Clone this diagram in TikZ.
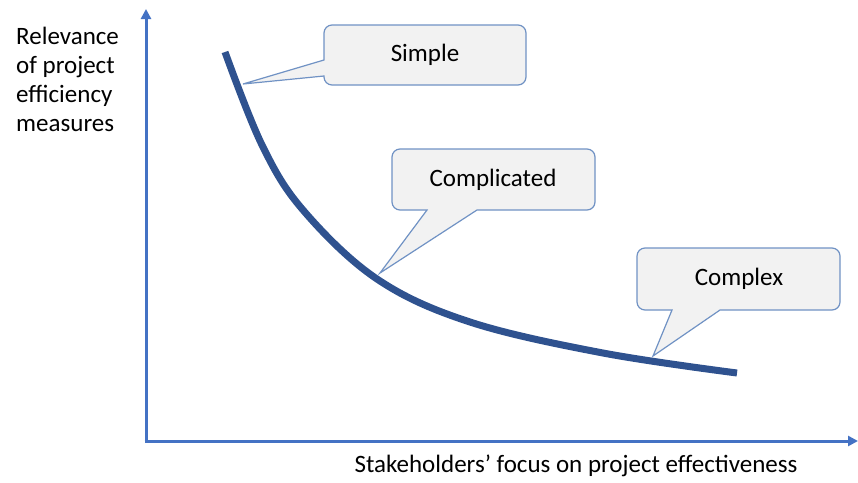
\documentclass[tikz,border=0pt]{standalone}
\usepackage{fontspec}
\setmainfont{Carlito}
\usetikzlibrary{arrows.meta}
\definecolor{axisblue}{RGB}{68,114,196}
\definecolor{curveblue}{RGB}{47,82,143}
\definecolor{calloutedge}{RGB}{112,146,196}
\definecolor{calloutfill}{RGB}{242,242,242}
\tikzset{
  axis/.style={draw=axisblue, line width=3pt, -{Triangle[length=10pt,width=10pt]}},
  curve/.style={draw=curveblue, line width=7pt},
  callout/.style={draw=calloutedge, fill=calloutfill, line width=1.2pt, line join=miter},
  lbl/.style={font=\fontsize{25}{29}\selectfont, text=black, inner sep=0pt},
}
\begin{document}
\begin{tikzpicture}[x=1pt,y=-1pt]
\useasboundingbox (0,0) rectangle (858,482);
% axes
\coordinate (O) at (146,441);
\coordinate (ytop) at (146,9);
\coordinate (xend) at (858,441);
\draw[axis] (146,442.5) -- (ytop);
\draw[axis] (144.5,441) -- (xend);
% curve
\draw[curve] plot[smooth, tension=0.6] coordinates {(225,52) (262,145) (303,210) (377,279) (470,322) (603,353) (737,373)};
\coordinate (tipA) at (243,84);
\coordinate (tipB) at (380,273);
\coordinate (tipC) at (653,356);
% callout Simple
\path[callout] (tipA) -- (324,76) [rounded corners=8pt] -- (324,85) -- (526,85) -- (526,25) -- (324,25) [sharp corners] -- (324,60) -- cycle;
\node[lbl] (simple) at (425,55) {Simple};
% callout Complicated
\path[callout] (tipB) -- (427,210) [rounded corners=8pt] -- (392,210) -- (392,149) -- (595,149) -- (595,210) [sharp corners] -- (477,210) -- cycle;
\node[lbl] (complicated) at (493,180) {Complicated};
% callout Complex
\path[callout] (tipC) -- (672,310) [rounded corners=8pt] -- (637,310) -- (637,248) -- (840,248) -- (840,310) [sharp corners] -- (720,310) -- cycle;
\node[lbl] (complex) at (739,279) {Complex};
% axis labels
\node[lbl, anchor=north west, align=left] (ylabel) at (16,27) {Relevance\\of project\\efficiency\\measures};
\node[lbl, anchor=north] (xlabel) at (576,455) {Stakeholders’ focus on project effectiveness};
\end{tikzpicture}
\end{document}
